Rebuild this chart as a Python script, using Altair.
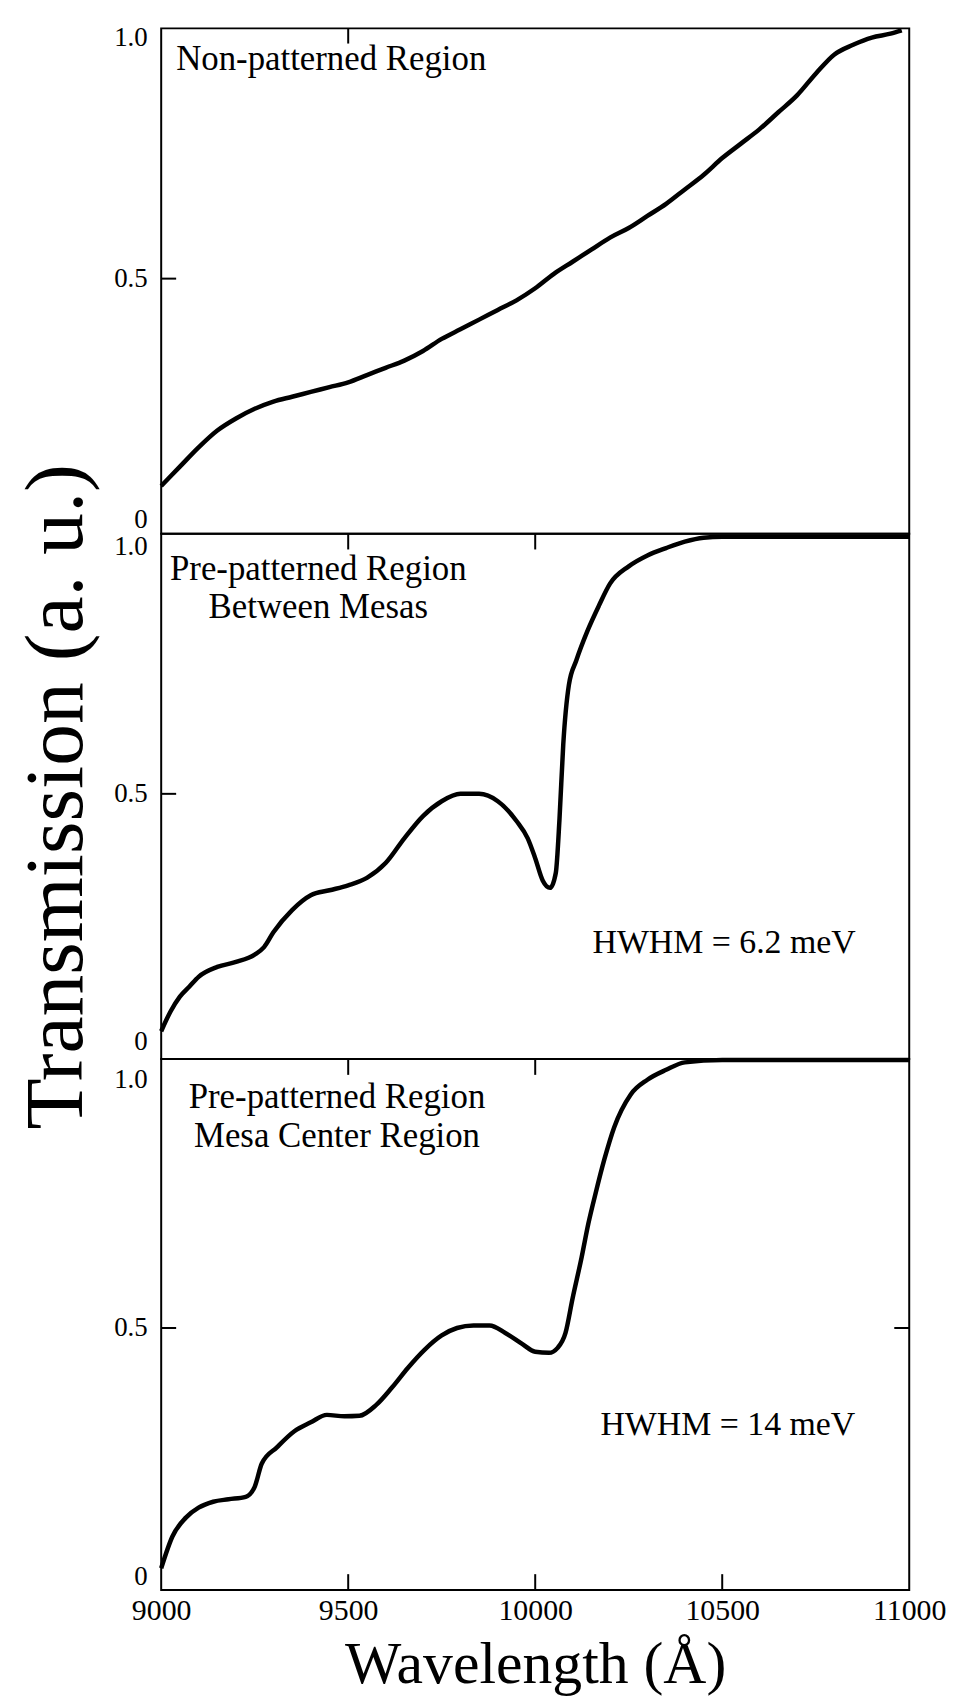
import altair as alt
import pandas as pd

# ---------------- data ----------------
wl1 = [9000, 9050, 9100, 9150, 9200, 9250, 9300, 9350, 9400, 9450, 9500, 9550, 9600,
       9650, 9700, 9750, 9800, 9850, 9900, 9950, 10000, 10050, 10100, 10150, 10200,
       10250, 10300, 10350, 10400, 10450, 10500, 10550, 10600, 10650, 10700, 10750,
       10800, 10850, 10900, 10950, 10980]
tr1 = [0.07, 0.11, 0.15, 0.185, 0.21, 0.23, 0.245, 0.255, 0.265, 0.275, 0.285, 0.30, 0.315,
       0.33, 0.35, 0.375, 0.395, 0.415, 0.435, 0.455, 0.48, 0.51, 0.535, 0.56, 0.585,
       0.605, 0.63, 0.655, 0.685, 0.715, 0.75, 0.78, 0.81, 0.845, 0.88, 0.925,
       0.965, 0.985, 1.0, 1.008, 1.015]

wl2 = [9000, 9025, 9050, 9075, 9100, 9150, 9200, 9250, 9275, 9300, 9350, 9400, 9450, 9500,
       9550, 9600, 9650, 9700, 9750, 9800, 9850, 9900, 9950, 9980, 10000, 10020, 10040,
       10055, 10065, 10075, 10090, 10110, 10140, 10170, 10200, 10250, 10300, 10350,
       10400, 10450, 10500, 10600, 10700, 10800, 10900, 11000]
tr2 = [0.02, 0.06, 0.09, 0.11, 0.13, 0.15, 0.16, 0.175, 0.19, 0.22, 0.265, 0.295, 0.305, 0.315,
       0.33, 0.36, 0.41, 0.455, 0.485, 0.50, 0.50, 0.485, 0.445, 0.41, 0.37, 0.325, 0.31,
       0.34, 0.45, 0.60, 0.72, 0.77, 0.83, 0.88, 0.925, 0.96, 0.982, 0.997,
       1.01, 1.018, 1.02, 1.02, 1.02, 1.02, 1.02, 1.02]

wl3 = [9000, 9030, 9066, 9100, 9139, 9180, 9226, 9250, 9269, 9310, 9356, 9400, 9443, 9490,
       9530, 9575, 9617, 9660, 9704, 9750, 9791, 9835, 9878, 9920, 9965, 10000, 10037,
       10060, 10081, 10100, 10124, 10142, 10162, 10185, 10211, 10255, 10300, 10350,
       10400, 10500, 10600, 10700, 10800, 10900, 11000]
tr3 = [0.016, 0.08, 0.118, 0.138, 0.15, 0.155, 0.16, 0.18, 0.227, 0.26, 0.292, 0.31, 0.325, 0.322,
       0.323, 0.345, 0.38, 0.42, 0.456, 0.485, 0.50, 0.505, 0.505, 0.49, 0.468, 0.452, 0.45,
       0.46, 0.49, 0.56, 0.642, 0.71, 0.773, 0.84, 0.904, 0.97, 1.0, 1.02,
       1.035, 1.04, 1.04, 1.04, 1.04, 1.04, 1.04]

x_ticks = [9000, 9500, 10000, 10500, 11000]
y_ticks = [0, 0.5, 1.0]

FONT = "Liberation Serif"
XDOM = [9000, 11000]
W = 752


def panel(wl, tr, ydom, h, labels, hwhm=None, show_x=False, y_title=False,
          top_ticks=(), bottom_ticks=(), right_ticks=()):
    df = pd.DataFrame({"wl": wl, "tr": tr})
    xscale = alt.Scale(domain=XDOM, nice=False, zero=False)
    yscale = alt.Scale(domain=ydom, nice=False, zero=False)
    if show_x:
        xaxis = alt.Axis(values=x_ticks, format="d", title="Wavelength (Å)",
                         domain=False, ticks=False, grid=False,
                         labelFont=FONT, labelFontSize=30, labelColor="black",
                         labelPadding=6, labelFlush=False,
                         titleFont=FONT, titleFontSize=60, titleFontWeight="normal",
                         titleColor="black", titlePadding=10)
    else:
        xaxis = None
    yargs = dict(values=y_ticks,
                 labelExpr="datum.value == 0 ? '0' : format(datum.value, '.1f')",
                 domain=False, ticks=False, grid=False,
                 labelFont=FONT, labelFontSize=27, labelColor="black",
                 labelPadding=14)
    if y_title:
        yargs.update(title="Transmission (a. u.)",
                     titleFont=FONT, titleFontSize=84, titleFontWeight="normal",
                     titleColor="black", titlePadding=14)
    else:
        yargs.update(title=None)
    yaxis = alt.Axis(**yargs)
    layers = [
        alt.Chart(df).mark_line(color="black", strokeWidth=4.5, interpolate="monotone").encode(
            x=alt.X("wl:Q", scale=xscale, axis=xaxis),
            y=alt.Y("tr:Q", scale=yscale, axis=yaxis),
        )
    ]
    # inward tick marks
    span_y = (ydom[1] - ydom[0]) * 0.03
    if bottom_ticks:
        layers.append(alt.Chart(pd.DataFrame({"wl": list(bottom_ticks)})).mark_rule(
            color="black", strokeWidth=2).encode(
            x="wl:Q", y=alt.datum(ydom[0]), y2=alt.datum(ydom[0] + span_y)))
    if top_ticks:
        layers.append(alt.Chart(pd.DataFrame({"wl": list(top_ticks)})).mark_rule(
            color="black", strokeWidth=2).encode(
            x="wl:Q", y=alt.datum(ydom[1]), y2=alt.datum(ydom[1] - span_y)))
    layers.append(alt.Chart(pd.DataFrame({"tr": [0.5]})).mark_rule(
        color="black", strokeWidth=2).encode(
        y="tr:Q", x=alt.datum(9000), x2=alt.datum(9040)))
    if right_ticks:
        layers.append(alt.Chart(pd.DataFrame({"tr": list(right_ticks)})).mark_rule(
            color="black", strokeWidth=2).encode(
            y="tr:Q", x=alt.datum(10960), x2=alt.datum(11000)))
    # labels
    for (txt, xw, yv, align) in labels:
        layers.append(alt.Chart(pd.DataFrame({"t": [txt]})).mark_text(
            font=FONT, fontSize=35, color="black", align=align, baseline="middle").encode(
            x=alt.datum(xw), y=alt.datum(yv), text="t:N"))
    if hwhm:
        txt, xw, yv = hwhm
        layers.append(alt.Chart(pd.DataFrame({"t": [txt]})).mark_text(
            font=FONT, fontSize=34, color="black", align="center", baseline="middle").encode(
            x=alt.datum(xw), y=alt.datum(yv), text="t:N"))
    return alt.layer(*layers).properties(width=W, height=h)


p1 = panel(wl1, tr1, [-0.029, 1.019], 508,
           [("Non-patterned Region", 9040, 0.955, "left")],
           top_ticks=[9500])
p2 = panel(wl2, tr2, [-0.036, 1.026], 528,
           [("Pre-patterned Region", 9420, 0.955, "center"),
            ("Between Mesas", 9420, 0.877, "center")],
           hwhm=("HWHM = 6.2 meV", 10505, 0.198),
           y_title=True, top_ticks=[9500, 10000])
p3 = panel(wl3, tr3, [-0.028, 1.042], 534,
           [("Pre-patterned Region", 9470, 0.965, "center"),
            ("Mesa Center Region", 9470, 0.887, "center")],
           hwhm=("HWHM = 14 meV", 10515, 0.305),
           show_x=True, top_ticks=[9500, 10000], bottom_ticks=[9500, 10000, 10500],
           right_ticks=[0.5])

chart = alt.vconcat(p1, p2, p3, spacing=0, bounds="flush").properties(
    padding={"left": 6, "top": 7, "right": 5, "bottom": 2},
    background="white",
).configure_view(stroke="black", strokeWidth=2)

chart.save("out.html", embed_options={"renderer": "svg", "actions": False})
